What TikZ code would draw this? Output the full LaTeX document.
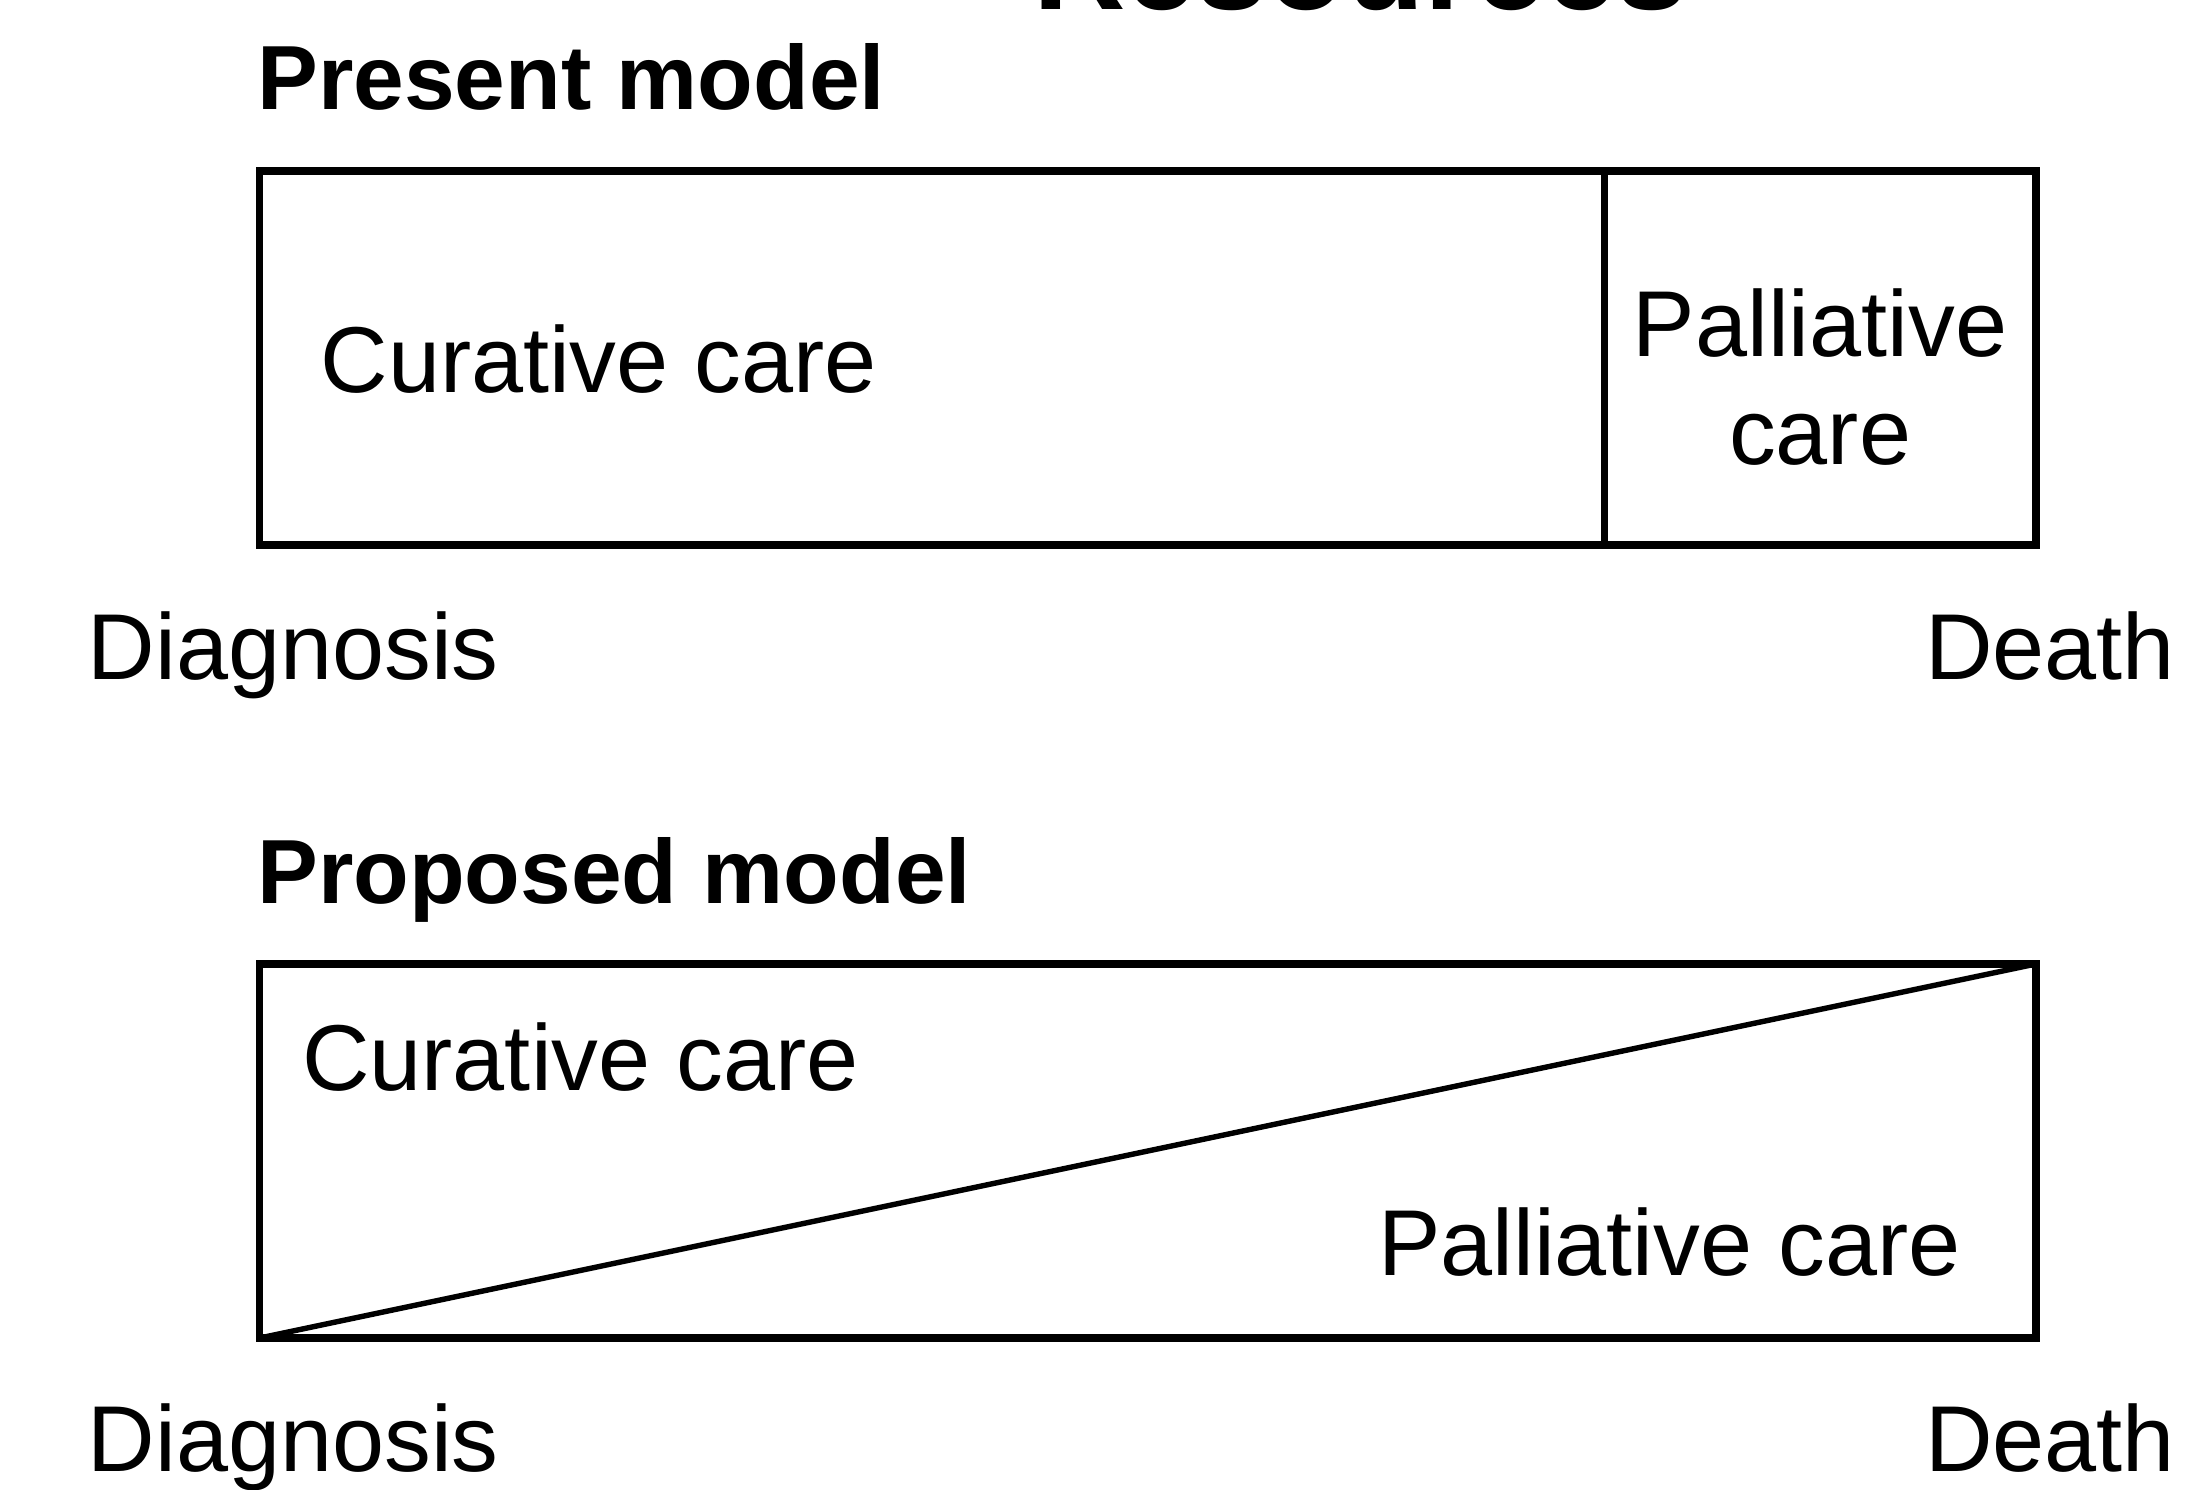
\documentclass[tikz,border=0pt]{standalone}
\usepackage{fontspec}
\setmainfont{Liberation Sans}
\usepackage{tikz}
\usetikzlibrary{positioning}

\begin{document}
\begin{tikzpicture}[box/.style={draw=black,line width=1.5pt,rectangle,outer sep=0pt,inner sep=0pt,minimum height=2.67cm},
    txt/.style={inner sep=0pt,font=\fontsize{19}{22}\selectfont},
    hdr/.style={inner sep=0pt,font=\fontsize{18.5}{22}\selectfont\bfseries}]

        \useasboundingbox (0,0) rectangle (15.68,-10.63);

        \node[inner sep=0pt,font=\fontsize{26}{30}\selectfont\bfseries,anchor=base] (title) at (9.71,-0.07) {Resources};

        \node[hdr,anchor=base west] (present) at (1.83,-0.78) {Present model};

        \node[box,minimum width=9.60cm,anchor=north west] (cur1) at (1.85,-1.22) {};
        \node[box,minimum width=3.08cm,anchor=north west] (pal1) at (cur1.north east) {};

        \node[txt,anchor=base west] (curtxt1) at (2.28,-2.80) {Curative care};
        \node[txt,align=center,anchor=north] (paltxt1) at (12.99,-2.05) {Palliative\\care};

        \node[txt,anchor=base west] (diag1) at (0.62,-4.85) {Diagnosis};
        \node[txt,anchor=base east] (death1) at (15.53,-4.85) {Death};



        \node[hdr,anchor=base west] (proposed) at (1.83,-6.45) {Proposed model};

        \node[box,minimum width=12.68cm,anchor=north west] (prop) at (1.85,-6.88) {};

        \draw[line width=1.1pt] (prop.south west) to (prop.north east);

        \node[txt,anchor=base west] (curtxt2) at (2.15,-7.78) {Curative care};
        \node[txt,anchor=base east] (paltxt2) at (14.00,-9.10) {Palliative care};

        \node[txt,anchor=base west] (diag2) at (0.62,-10.50) {Diagnosis};
        \node[txt,anchor=base east] (death2) at (15.53,-10.50) {Death};
    \end{tikzpicture}
\end{document}
